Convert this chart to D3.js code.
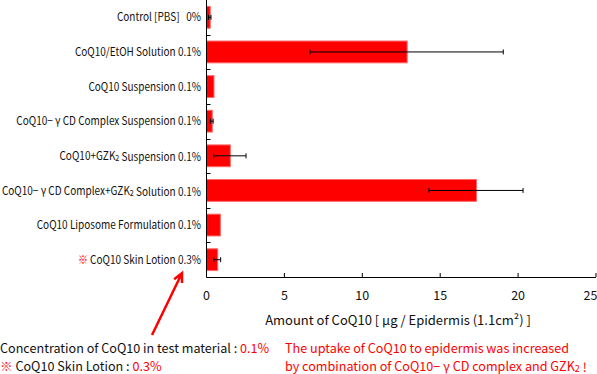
<!DOCTYPE html>
<html>
<head>
<meta charset="utf-8">
<script src="https://cdn.jsdelivr.net/npm/d3@7"></script>
<style>
  body { margin: 0; background: #fff; }
  text { font-family: "Noto Sans CJK JP", "DejaVu Sans", sans-serif; white-space: pre; }
</style>
</head>
<body>
<div id="chart"></div>
<script>
// Data: categories (top to bottom), "_2" marks a subscript 2, "*" a red ※ prefix
const categories = [
  "Control [PBS]   0%",
  "CoQ10/EtOH Solution 0.1%",
  "CoQ10 Suspension 0.1%",
  "CoQ10\u2212 \u03b3 CD Complex Suspension 0.1%",
  "CoQ10+GZK_2 Suspension 0.1%",
  "CoQ10\u2212 \u03b3 CD Complex+GZK_2 Solution 0.1%",
  "CoQ10 Liposome Formulation 0.1%",
  "*CoQ10 Skin Lotion 0.3%"
];
const amounts = [0.24, 12.88, 0.48, 0.37, 1.53, 17.33, 0.89, 0.72];
const errors  = [0.08, 6.2, 0, 0.09, 1.04, 3.02, 0, 0.22];
const xTicks = [0, 5, 10, 15, 20, 25];

const data = categories.map((c, i) => ({ cat: c, value: amounts[i], err: errors[i] }));

// Dimensions
const fullWidth = 597, fullHeight = 374;
const margin = { top: 0, left: 206, right: 1.5 };
const width = fullWidth - margin.left - margin.right;
const height = 277;

const svg = d3.select("#chart").append("svg")
  .attr("width", fullWidth)
  .attr("height", fullHeight);

const g = svg.append("g")
  .attr("transform", `translate(${margin.left},${margin.top})`);

// Scales
const x = d3.scaleLinear().domain([0, 25]).range([0, width]);
const y = d3.scaleBand()
  .domain(categories)
  .range([0, height])
  .paddingInner(0.37)
  .paddingOuter(0.185);

// Bars
g.selectAll(".bar")
  .data(data)
  .enter()
  .append("rect")
  .attr("x", 0.5)
  .attr("y", d => y(d.cat))
  .attr("width", d => x(d.value))
  .attr("height", y.bandwidth())
  .attr("fill", "#ff0000")
  .attr("stroke", "#ff6a6a")
  .attr("stroke-width", 1);

// Error bars
const errData = data.filter(d => d.err > 0);
const cap = 2.5;
const eb = g.selectAll(".err")
  .data(errData)
  .enter()
  .append("g")
  .attr("stroke", "#000")
  .attr("stroke-width", 1);
eb.append("line")
  .attr("x1", d => x(d.value - d.err))
  .attr("x2", d => x(d.value + d.err))
  .attr("y1", d => y(d.cat) + y.bandwidth() / 2)
  .attr("y2", d => y(d.cat) + y.bandwidth() / 2);
eb.append("line")
  .attr("x1", d => x(d.value - d.err))
  .attr("x2", d => x(d.value - d.err))
  .attr("y1", d => y(d.cat) + y.bandwidth() / 2 - cap)
  .attr("y2", d => y(d.cat) + y.bandwidth() / 2 + cap);
eb.append("line")
  .attr("x1", d => x(d.value + d.err))
  .attr("x2", d => x(d.value + d.err))
  .attr("y1", d => y(d.cat) + y.bandwidth() / 2 - cap)
  .attr("y2", d => y(d.cat) + y.bandwidth() / 2 + cap);

// X axis (ticks pointing inward)
const xAxis = g.append("g")
  .attr("transform", `translate(0,${height})`)
  .call(d3.axisBottom(x).tickValues(xTicks).tickSize(-4).tickPadding(14).tickSizeOuter(0));
xAxis.select(".domain").attr("stroke", "#000");
xAxis.selectAll("text")
  .style("font-size", "12.5px")
  .attr("fill", "#111");
// last label is pulled in so it stays inside the picture
xAxis.selectAll(".tick").filter(d => d === 25).select("text")
  .attr("text-anchor", "end")
  .attr("x", 1.5);

// Y axis line and boundary ticks
g.append("line")
  .attr("x1", 0.5).attr("x2", 0.5)
  .attr("y1", 0).attr("y2", height + 0.5)
  .attr("stroke", "#000");
g.selectAll(".ytick")
  .data(d3.range(1, categories.length))
  .enter()
  .append("line")
  .attr("x1", 0.5).attr("x2", 4.5)
  .attr("y1", i => Math.round(i * y.step()) + 0.5)
  .attr("y2", i => Math.round(i * y.step()) + 0.5)
  .attr("stroke", "#000");

// Helper: write a label with subscripts and red marks
function writeLabel(sel, str, size) {
  let s = str;
  if (s.startsWith("*")) {
    sel.append("tspan").attr("fill", "#ff0000").text("\u203b ");
    s = s.slice(1);
  }
  const parts = s.split("_2");
  parts.forEach((p, i) => {
    sel.append("tspan").text(p);
    if (i < parts.length - 1) {
      sel.append("tspan")
        .style("font-size", (size * 0.72) + "px")
        .attr("dy", 1).text("2");
      sel.append("tspan").attr("dy", -1).text("");
    }
  });
}

// Category labels (slightly condensed to match the original face)
g.selectAll(".ylabel")
  .data(categories)
  .enter()
  .append("g")
  .attr("transform", d => `translate(-5,${y(d) + y.bandwidth() / 2}) scale(0.87,1)`)
  .append("text")
  .attr("dy", "0.36em")
  .attr("text-anchor", "end")
  .style("font-size", "11.5px")
  .attr("fill", "#111")
  .each(function(d) { writeLabel(d3.select(this), d, 11.5); });

// X axis title
svg.append("text")
  .attr("x", 398)
  .attr("y", 325)
  .attr("text-anchor", "middle")
  .style("font-size", "13px")
  .attr("fill", "#111")
  .text("Amount of CoQ10 [ \u03bcg / Epidermis (1.1cm\u00b2) ]");

// Annotation arrow
const arrowFrom = [152, 335], arrowTo = [182, 273];
const ang = Math.atan2(arrowTo[1] - arrowFrom[1], arrowTo[0] - arrowFrom[0]);
const headLen = 10, headAng = 0.45;
svg.append("path")
  .attr("d", `M${arrowFrom[0]},${arrowFrom[1]}L${arrowTo[0]},${arrowTo[1]}` +
    `M${arrowTo[0] - headLen * Math.cos(ang - headAng)},${arrowTo[1] - headLen * Math.sin(ang - headAng)}` +
    `L${arrowTo[0]},${arrowTo[1]}` +
    `L${arrowTo[0] - headLen * Math.cos(ang + headAng)},${arrowTo[1] - headLen * Math.sin(ang + headAng)}`)
  .attr("fill", "none")
  .attr("stroke", "#ff0000")
  .attr("stroke-width", 2.5);

// Notes, bottom left
const noteSize = 12.6;
const note1 = svg.append("text").attr("x", 0).attr("y", 353)
  .style("font-size", noteSize + "px").attr("fill", "#111");
note1.append("tspan").text("Concentration of CoQ10 in test material : ");
note1.append("tspan").attr("fill", "#ff0000").text("0.1%");

const note2 = svg.append("text").attr("x", 0).attr("y", 370.5)
  .style("font-size", noteSize + "px").attr("fill", "#111");
note2.append("tspan").attr("fill", "#ff0000").text("\u203b ");
note2.append("tspan").text("CoQ10 Skin Lotion : ");
note2.append("tspan").attr("fill", "#ff0000").text("0.3%");

// Conclusion, bottom right
svg.append("text").attr("x", 285).attr("y", 353)
  .style("font-size", noteSize + "px").attr("fill", "#ff0000")
  .text("The uptake of CoQ10 to epidermis was increased");
const conc2 = svg.append("text").attr("x", 285).attr("y", 370.5)
  .style("font-size", noteSize + "px").attr("fill", "#ff0000");
writeLabel(conc2, "by combination of CoQ10\u2212 \u03b3 CD complex and GZK_2 !", noteSize);
</script>
</body>
</html>
